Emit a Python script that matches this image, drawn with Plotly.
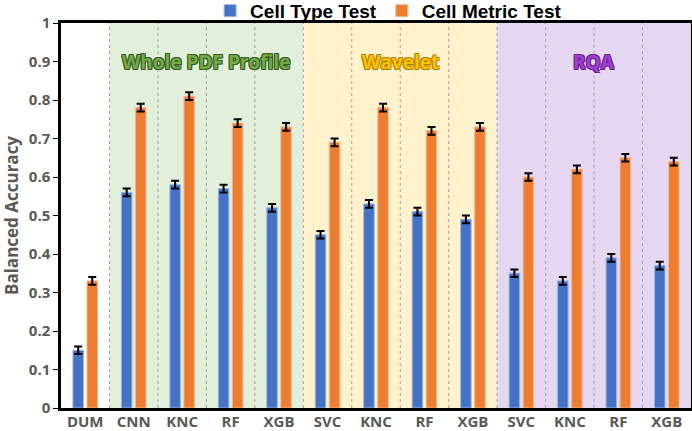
import plotly.graph_objects as go

models = ["DUM", "CNN", "KNC", "RF", "XGB", "SVC", "KNC", "RF", "XGB", "SVC", "KNC", "RF", "XGB"]
cell_type = [0.15, 0.56, 0.58, 0.57, 0.52, 0.45, 0.53, 0.51, 0.49, 0.35, 0.33, 0.39, 0.37]
cell_metric = [0.33, 0.78, 0.81, 0.74, 0.73, 0.69, 0.78, 0.72, 0.73, 0.60, 0.62, 0.65, 0.64]
err_type = [0.01] * 13
err_metric = [0.01] * 13
groups = [
    ("Whole PDF Profile", 1, 4, "#E2EFDA", "#70AD47", "#385723"),
    ("Wavelet", 5, 8, "#FFF2CC", "#FFC000", "#B08400"),
    ("RQA", 9, 12, "#E6D8F2", "#A040D0", "#6A1F8F"),
]

pos = list(range(len(models)))
fig = go.Figure()
fig.add_trace(go.Bar(
    x=pos, y=cell_type, name="Cell Type Test",
    marker=dict(color="#4472C4", line=dict(color="#9DB5E3", width=1)),
    error_y=dict(type="data", array=err_type, color="black", thickness=2, width=4),
))
fig.add_trace(go.Bar(
    x=pos, y=cell_metric, name="Cell Metric Test",
    marker=dict(color="#ED7D31", line=dict(color="#F6B88E", width=1)),
    error_y=dict(type="data", array=err_metric, color="black", thickness=2, width=4),
))

shapes = []
annotations = []
for name, a, b, bg, fg, outline in groups:
    shapes.append(dict(type="rect", xref="x", yref="paper", x0=a - 0.5, x1=b + 0.5, y0=0, y1=1,
                       fillcolor=bg, line=dict(width=0), layer="below"))
    o = outline
    shadow = f"-1px -1px 0 {o}, 1px -1px 0 {o}, -1px 1px 0 {o}, 1px 1px 0 {o}"
    annotations.append(dict(x=(a + b) / 2, y=0.9, xref="x", yref="y", text=name,
                            showarrow=False,
                            font=dict(family="Open Sans", size=19, color=fg, weight="bold", shadow=shadow)))
for i in range(len(models) - 1):
    shapes.append(dict(type="line", xref="x", yref="paper", x0=i + 0.5, x1=i + 0.5, y0=0, y1=1,
                       line=dict(color="#A0A0A0", width=1, dash="dot"), layer="below"))

fig.update_layout(
    template="none",
    width=692, height=431,
    margin=dict(l=61, r=1, t=23, b=23, autoexpand=False),
    paper_bgcolor="white", plot_bgcolor="white",
    barmode="group", bargap=0.42, bargroupgap=0.25,
    shapes=shapes, annotations=annotations,
    showlegend=True,
    legend=dict(orientation="h", x=0.52, xanchor="center", y=1.081, yanchor="top", yref="paper",
                font=dict(family="Liberation Sans", size=19, color="black", weight="bold"),
                traceorder="normal", bgcolor="rgba(0,0,0,0)"),
    font=dict(family="Open Sans"),
)
fig.update_xaxes(
    range=[-0.5, len(models) - 0.5], tickmode="array", tickvals=pos,
    ticktext=models,
    tickfont=dict(family="Open Sans", size=15, color="#595959", weight="bold"),
    showline=True, linecolor="black", linewidth=2.5, mirror=True,
    ticks="", showgrid=False, zeroline=False, automargin=False,
    ticklabelstandoff=-2,
)
fig.update_yaxes(
    range=[0, 1], dtick=0.1,
    tickfont=dict(family="Open Sans", size=15, color="#595959", weight="bold"),
    title=dict(text="Balanced Accuracy", font=dict(family="Open Sans", size=17, color="#595959", weight="bold"), standoff=6),
    showline=True, linecolor="black", linewidth=2.5, mirror=True,
    ticks="outside", ticklen=5, tickwidth=1, tickcolor="black",
    showgrid=False, zeroline=False, automargin=False,
)
fig.write_html("out.html", config={"displayModeBar": False},
               post_script="document.body.style.margin='0';")
